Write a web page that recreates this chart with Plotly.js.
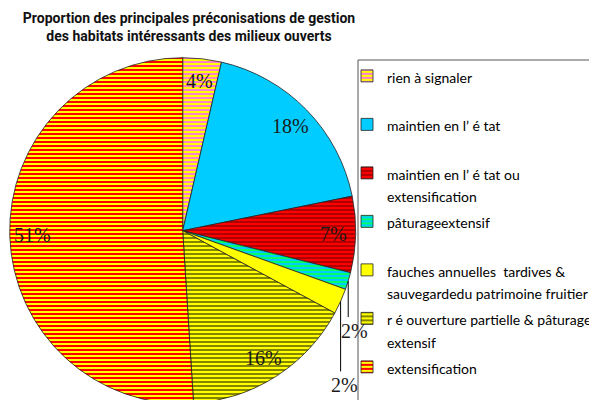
<!DOCTYPE html>
<html>
<head>
<meta charset="utf-8">
<script src="https://cdn.plot.ly/plotly-3.0.1.min.js"></script>
<style>
  html, body { margin: 0; padding: 0; overflow: hidden; background: #fff; }
</style>
</head>
<body>
<div id="chart"></div>
<script>
// Data (clockwise from 12 o'clock)
const CATEGORIES = [
    'rien à signaler',
    'maintien en l’ é tat',
    'maintien en l’ é tat ou<br>extensification',
    'pâturageextensif',
    'fauches annuelles  tardives &<br>sauvegardedu patrimoine fruitier',
    'r é ouverture partielle & pâturage<br>extensif',
    'extensification',
];
const VALUES = [3.6, 18.2, 7.1, 1.6, 2.4, 16.1, 51.0];

// Fill styles (striped slices like the original)
const BG_COLORS = ['#FFFF00', '#00CCFF', '#FF0000', '#00CCFF', '#FFFF00', '#FFFF00', '#FFFF00'];
const FG_COLORS = ['#FF80D0', '#00CCFF', '#B00000', '#00FF66', '#FFFF00', '#858500', '#FF0000'];
const PATTERNS  = ['-', '', '-', '-', '', '-', '-'];

const W = 620, H = 410;           // layout is a bit larger than the window, like the cropped original
const CX = 182.7, CY = 230.7, R = 173;
const LABEL_R = 0.87;             // inside labels, fraction of radius
const LEADER_DROP = [36, 70];     // px length of leader lines for tiny slices
const LEADER_DX = [6, 4];

const px = x => x / W;
const py = y => 1 - y / H;

const total = VALUES.reduce((a, b) => a + b, 0);
const pcts = VALUES.map(v => Math.round(v / total * 100));

// Percent labels placed on each slice's mid-angle
const annotations = [];
const shapes = [];
let cum = 0, small = 0;
VALUES.forEach((v, i) => {
    const mid = (cum + v / 2) / total * 2 * Math.PI;
    cum += v;
    const font = { family: 'Liberation Serif, Times New Roman, serif', size: 20, color: '#1a1a1a' };
    if (pcts[i] >= 3) {
        annotations.push({
            x: px(CX + LABEL_R * R * Math.sin(mid)), y: py(CY - LABEL_R * R * Math.cos(mid)),
            xref: 'paper', yref: 'paper', xanchor: 'center', yanchor: 'middle',
            showarrow: false, text: pcts[i] + '%', font,
        });
    } else {
        const ex = CX + R * Math.sin(mid), ey = CY - R * Math.cos(mid);
        const drop = LEADER_DROP[small];
        shapes.push({
            type: 'line', xref: 'paper', yref: 'paper',
            x0: px(ex), x1: px(ex), y0: py(ey), y1: py(ey + drop),
            line: { color: '#000', width: 1 },
        });
        annotations.push({
            x: px(ex + LEADER_DX[small]), y: py(ey + drop + 1),
            xref: 'paper', yref: 'paper', xanchor: 'center', yanchor: 'top',
            showarrow: false, text: pcts[i] + '%', font,
        });
        small++;
    }
});

// Legend frame (drawn separately so the text sits close to it)
shapes.push({
    type: 'rect', xref: 'paper', yref: 'paper', layer: 'below',
    x0: px(358), x1: px(W + 20), y0: py(60), y1: py(H + 20),
    line: { color: '#555', width: 1 }, fillcolor: '#fff',
});

// Legend names: small visible text, taller line box for the spacing of the original
const legendNames = CATEGORIES.map((c, i) => {
    const lines = c.split('<br>');
    if (lines.length === 1 && i < CATEGORIES.length - 1) lines.push(' ');
    return lines.map(l => '<span style="font-size:14px">' + l + '</span>').join('<br>');
});

const trace = {
    type: 'pie',
    labels: legendNames,
    values: VALUES,
    sort: false,
    direction: 'clockwise',
    rotation: 0,
    textinfo: 'none',
    hoverinfo: 'skip',
    domain: { x: [px(CX - R), px(CX + R)], y: [py(CY + R), py(CY - R)] },
    marker: {
        colors: BG_COLORS,
        line: { color: '#222', width: 0.8 },
        pattern: {
            shape: PATTERNS,
            bgcolor: BG_COLORS,
            fgcolor: FG_COLORS,
            size: 4,
            solidity: 0.5,
        },
    },
};

const layout = {
    width: W, height: H,
    margin: { t: 0, r: 0, b: 0, l: 0 },
    paper_bgcolor: '#fff',
    title: {
        text: 'Proportion des principales préconisations de gestion<br>' +
              'des habitats intéressants des milieux ouverts',
        font: { family: 'Roboto, sans-serif', size: 14, color: '#111', weight: 'bold' },
        x: px(189), xanchor: 'center', xref: 'container',
        y: py(23), yanchor: 'middle', yref: 'container',
    },
    showlegend: true,
    legend: {
        x: px(347), xanchor: 'left',
        y: py(58), yanchor: 'top',
        bgcolor: 'rgba(0,0,0,0)', borderwidth: 0,
        font: { family: 'Lato, Liberation Sans, sans-serif', size: 17.5, color: '#000' },
        valign: 'top',
        traceorder: 'normal',
    },
    shapes,
    annotations,
};

Plotly.newPlot('chart', [trace], layout, { displayModeBar: false, staticPlot: true });
</script>
</body>
</html>
